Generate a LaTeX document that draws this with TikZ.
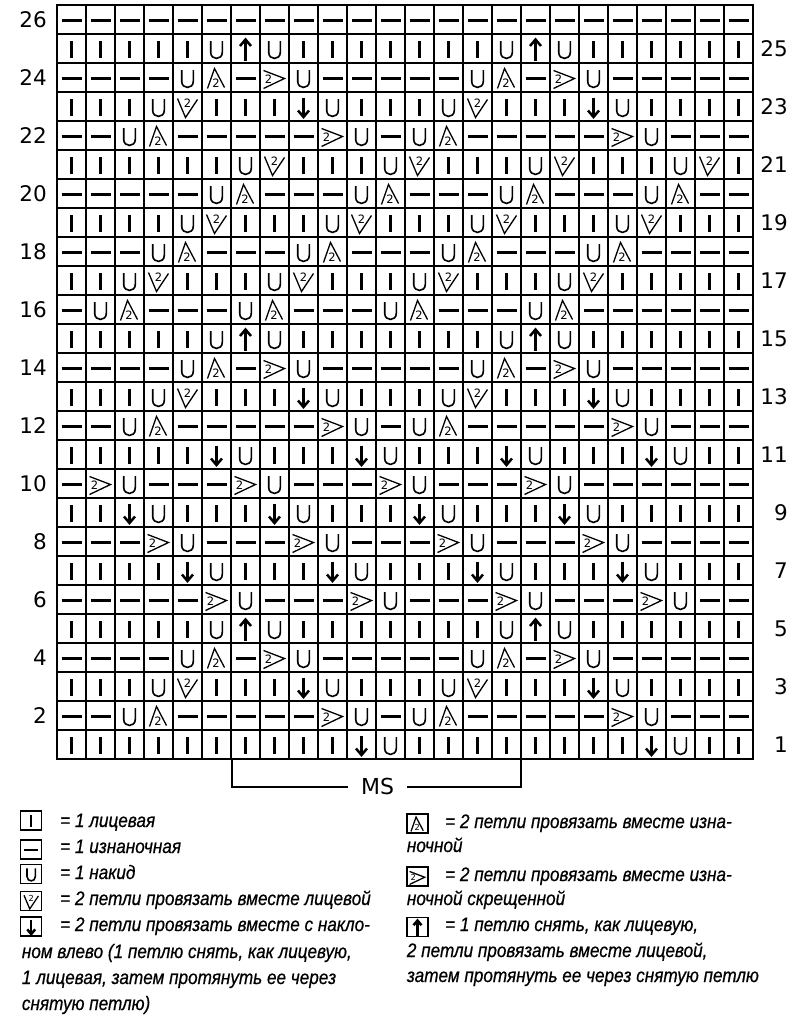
\documentclass[tikz,border=0pt]{standalone}
\usepackage{fontspec}
\setmainfont{Liberation Sans}
\newfontfamily\numfont{DejaVu Sans}
\newfontfamily\legfont{Liberation Sans}[FakeStretch=0.88,FakeBold=0.6]
% chart symbols, drawn round the cell centre (screen orientation, y down)
\newcommand\chK{\draw[heavy] (0,-7.5) -- (0,9.5);}
\newcommand\chP{\draw[heavy] (-10,1) -- (10,1);}
\newcommand\chO{\draw[fine,line width=1.6pt] (-5.8,-7.5) -- (-5.8,3.8) .. controls (-5.8,12) and (5.8,12) .. (5.8,3.8) -- (5.8,-7.5);}
\newcommand\chA{\draw[fine] (-9,11) -- (-2,-9) -- (8,10); \node[twolabel] at (-0.5,5.5) {2};}
\newcommand\chV{\draw[fine] (-10,-8) -- (-2,11) -- (10,-7); \node[twolabel] at (0,-3) {2};}
\newcommand\chB{\draw[fine] (-11,-7) -- (10,1) -- (-11,11); \node[twolabel] at (-6,1.5) {2};}
\newcommand\chD{\draw[arrowline] (0,-9) -- (0,10); \draw[arrowline] (-5.5,4) -- (0,10.5) -- (5.5,4);}
\newcommand\chT{\draw[arrowline] (0,12) -- (0,-8); \draw[arrowline] (-5.5,-2.5) -- (0,-9) -- (5.5,-2.5);}
\newcommand\chartrow[2]{%
  \foreach \sym [count=\col] in {#2} {%
    \begin{scope}[shift={({42.5+29*\col},{19.5+29*(26-#1)})}]
      \csname ch\sym\endcsname
    \end{scope}}}
\begin{document}
\begin{tikzpicture}[x=1pt,y=-1pt,
  gridline/.style={line width=1.5pt},
  heavy/.style={line width=2.3pt},
  fine/.style={line width=1.3pt, line join=miter},
  arrowline/.style={line width=2.5pt, line join=miter, miter limit=4},
  twolabel/.style={inner sep=0, font=\numfont\fontsize{11.5}{11.5}\selectfont},
  rownum/.style={anchor=east, inner sep=0, font=\numfont\fontsize{21.5}{22}\selectfont},
  mslabel/.style={inner xsep=13pt, inner ysep=0, font=\numfont\fontsize{22}{22}\selectfont},
  bracket/.style={line width=1.5pt},
  legbox/.style={draw, line width=1.3pt, minimum width=21pt, minimum height=19pt, inner sep=0},
  legtext/.style={anchor=base west, inner sep=0, font=\legfont\itshape\fontsize{19.5}{21}\selectfont},
  legsym/.style={scale=0.72, every node/.append style={transform shape}}]
\fill[white] (0,0) rectangle (810,1036);
\useasboundingbox (0,0) rectangle (810,1036);

% grid
\coordinate (gTL) at (57,5);
\coordinate (gBR) at (753,759);
\foreach \i in {1,...,23} \draw[gridline] ({57+29*\i},5) -- ({57+29*\i},759);
\foreach \j in {1,...,25} \draw[gridline] (57,{5+29*\j}) -- (753,{5+29*\j});
\draw[gridline] (gTL) rectangle (gBR);

% chart rows
\chartrow{26}{P,P,P,P,P,P,P,P,P,P,P,P,P,P,P,P,P,P,P,P,P,P,P,P}
\chartrow{25}{K,K,K,K,K,O,T,O,K,K,K,K,K,K,K,O,T,O,K,K,K,K,K,K}
\chartrow{24}{P,P,P,P,O,A,P,B,O,P,P,P,P,P,O,A,P,B,O,P,P,P,P,P}
\chartrow{23}{K,K,K,O,V,K,K,K,D,O,K,K,K,O,V,K,K,K,D,O,K,K,K,K}
\chartrow{22}{P,P,O,A,P,P,P,P,P,B,O,P,O,A,P,P,P,P,P,B,O,P,P,P}
\chartrow{21}{K,K,K,K,K,K,O,V,K,K,K,O,V,K,K,K,O,V,K,K,K,O,V,K}
\chartrow{20}{P,P,P,P,P,O,A,P,P,P,O,A,P,P,P,O,A,P,P,P,O,A,P,P}
\chartrow{19}{K,K,K,K,O,V,K,K,K,O,V,K,K,K,O,V,K,K,K,O,V,K,K,K}
\chartrow{18}{P,P,P,O,A,P,P,P,O,A,P,P,P,O,A,P,P,P,O,A,P,P,P,P}
\chartrow{17}{K,K,O,V,K,K,K,O,V,K,K,K,O,V,K,K,K,O,V,K,K,K,K,K}
\chartrow{16}{P,O,A,P,P,P,O,A,P,P,P,O,A,P,P,P,O,A,P,P,P,P,P,P}
\chartrow{15}{K,K,K,K,K,O,T,O,K,K,K,K,K,K,K,O,T,O,K,K,K,K,K,K}
\chartrow{14}{P,P,P,P,O,A,P,B,O,P,P,P,P,P,O,A,P,B,O,P,P,P,P,P}
\chartrow{13}{K,K,K,O,V,K,K,K,D,O,K,K,K,O,V,K,K,K,D,O,K,K,K,K}
\chartrow{12}{P,P,O,A,P,P,P,P,P,B,O,P,O,A,P,P,P,P,P,B,O,P,P,P}
\chartrow{11}{K,K,K,K,K,D,O,K,K,K,D,O,K,K,K,D,O,K,K,K,D,O,K,K}
\chartrow{10}{P,B,O,P,P,P,B,O,P,P,P,B,O,P,P,P,B,O,P,P,P,P,P,P}
\chartrow{9}{K,K,D,O,K,K,K,D,O,K,K,K,D,O,K,K,K,D,O,K,K,K,K,K}
\chartrow{8}{P,P,P,B,O,P,P,P,B,O,P,P,P,B,O,P,P,P,B,O,P,P,P,P}
\chartrow{7}{K,K,K,K,D,O,K,K,K,D,O,K,K,K,D,O,K,K,K,D,O,K,K,K}
\chartrow{6}{P,P,P,P,P,B,O,P,P,P,B,O,P,P,P,B,O,P,P,P,B,O,P,P}
\chartrow{5}{K,K,K,K,K,O,T,O,K,K,K,K,K,K,K,O,T,O,K,K,K,K,K,K}
\chartrow{4}{P,P,P,P,O,A,P,B,O,P,P,P,P,P,O,A,P,B,O,P,P,P,P,P}
\chartrow{3}{K,K,K,O,V,K,K,K,D,O,K,K,K,O,V,K,K,K,D,O,K,K,K,K}
\chartrow{2}{P,P,O,A,P,P,P,P,P,B,O,P,O,A,P,P,P,P,P,B,O,P,P,P}
\chartrow{1}{K,K,K,K,K,K,K,K,K,K,D,O,K,K,K,K,K,K,K,K,D,O,K,K}

% row numbers
\foreach \n in {2,4,...,26} \node[rownum] (num\n) at (47,{19.5+29*(26-\n)}) {\n};
\foreach \n in {1,3,...,25} \node[rownum] (num\n) at (788,{19.5+29*(26-\n)}) {\n};

% MS bracket
\coordinate (msTL) at (232,759);
\coordinate (msBL) at (232,787);
\coordinate (msTR) at (521,759);
\coordinate (msBR) at (521,787);
\node[mslabel] (MS) at (377.5,786.5) {MS};
\draw[bracket] (msTL) -- (msBL) -- (MS.west |- msBL);
\draw[bracket] (msTR) -- (msBR) -- (MS.east |- msBR);

% legend, left column
\node[legbox] (lb1) at (31.2,820.5) {};
\node[legbox] (lb2) at (31.2,849.5) {};
\node[legbox] (lb3) at (31.2,873.7) {};
\node[legbox] (lb4) at (31.2,901) {};
\node[legbox] (lb5) at (31.2,926.5) {};
\begin{scope}[shift={(lb1.center)},legsym] \chK \end{scope}
\begin{scope}[shift={(lb2.center)},legsym] \chP \end{scope}
\begin{scope}[shift={(lb3.center)},legsym] \chO \end{scope}
\begin{scope}[shift={(lb4.center)},legsym] \chV \end{scope}
\begin{scope}[shift={(lb5.center)},legsym] \chD \end{scope}
\node[legtext] (lt1) at (60,827) {= 1 лицевая};
\node[legtext] (lt2) at (60,853) {= 1 изнаночная};
\node[legtext] (lt3) at (60,879) {= 1 накид};
\node[legtext] (lt4) at (60,905) {= 2 петли провязать вместе лицевой};
\node[legtext] (lt5) at (60,931) {= 2 петли провязать вместе с накло-};
\node[legtext] (lt6) at (21.7,958) {ном влево (1 петлю снять, как лицевую,};
\node[legtext] (lt7) at (21.7,984) {1 лицевая, затем протянуть ее через};
\node[legtext] (lt8) at (21.7,1010) {снятую петлю)};

% legend, right column
\node[legbox] (rb1) at (417.5,823.5) {};
\node[legbox] (rb2) at (417.5,876.5) {};
\node[legbox] (rb3) at (417.5,927) {};
\begin{scope}[shift={(rb1.center)},legsym] \chA \end{scope}
\begin{scope}[shift={(rb2.center)},legsym] \chB \end{scope}
\begin{scope}[shift={(rb3.center)},legsym] \chT \end{scope}
\node[legtext] (rt1) at (445,828) {= 2 петли провязать вместе изна-};
\node[legtext] (rt2) at (406.7,852) {ночной};
\node[legtext] (rt3) at (445,881) {= 2 петли провязать вместе изна-};
\node[legtext] (rt4) at (406.7,905) {ночной скрещенной};
\node[legtext] (rt5) at (445,931) {= 1 петлю снять, как лицевую,};
\node[legtext] (rt6) at (406.7,957) {2 петли провязать вместе лицевой,};
\node[legtext] (rt7) at (406.7,982) {затем протянуть ее через снятую петлю};
\end{tikzpicture}
\end{document}
